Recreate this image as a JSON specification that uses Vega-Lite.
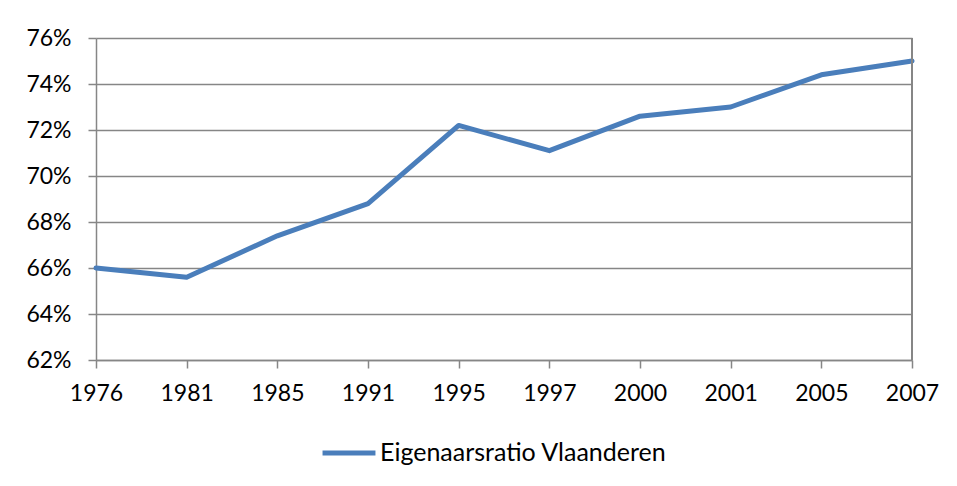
{
  "$schema": "https://vega.github.io/schema/vega-lite/v6.json",
  "width": 816,
  "height": 322,
  "autosize": {"type": "none"},
  "padding": {"left": 96, "top": 38, "right": 45, "bottom": 126},
  "background": "white",
  "config": {
    "font": "Lato",
    "view": {"stroke": null},
    "axis": {
      "labelFont": "Lato",
      "labelFontSize": 23,
      "labelColor": "#000000",
      "domainColor": "#868686",
      "domainWidth": 1.5,
      "tickColor": "#868686",
      "tickWidth": 1.5,
      "tickSize": 8,
      "gridColor": "#868686",
      "gridWidth": 1.5,
      "title": null
    },
    "axisX": {"labelPadding": 14, "labelAngle": 0, "grid": false},
    "axisY": {"labelPadding": 17, "grid": true}
  },
  "data": {
    "values": [
      {"year": "1976", "ratio": 0.660, "series": "Eigenaarsratio Vlaanderen"},
      {"year": "1981", "ratio": 0.656, "series": "Eigenaarsratio Vlaanderen"},
      {"year": "1985", "ratio": 0.674, "series": "Eigenaarsratio Vlaanderen"},
      {"year": "1991", "ratio": 0.688, "series": "Eigenaarsratio Vlaanderen"},
      {"year": "1995", "ratio": 0.722, "series": "Eigenaarsratio Vlaanderen"},
      {"year": "1997", "ratio": 0.711, "series": "Eigenaarsratio Vlaanderen"},
      {"year": "2000", "ratio": 0.726, "series": "Eigenaarsratio Vlaanderen"},
      {"year": "2001", "ratio": 0.730, "series": "Eigenaarsratio Vlaanderen"},
      {"year": "2005", "ratio": 0.744, "series": "Eigenaarsratio Vlaanderen"},
      {"year": "2007", "ratio": 0.750, "series": "Eigenaarsratio Vlaanderen"}
    ]
  },
  "layer": [
    {
      "mark": {"type": "line", "strokeWidth": 5, "strokeCap": "round", "strokeJoin": "round"},
      "encoding": {
        "x": {
          "field": "year",
          "type": "ordinal",
          "scale": {"type": "point", "padding": 0},
          "axis": {"labelAngle": 0, "labelPadding": 14, "grid": false}
        },
        "y": {
          "field": "ratio",
          "type": "quantitative",
          "scale": {"domain": [0.62, 0.76], "nice": false, "zero": false},
          "axis": {"format": ".0%", "values": [0.62, 0.64, 0.66, 0.68, 0.70, 0.72, 0.74, 0.76], "labelPadding": 17, "grid": true}
        },
        "color": {
          "field": "series",
          "type": "nominal",
          "scale": {"range": ["#4a7ebb"]},
          "legend": {
            "title": null,
            "orient": "none",
            "legendX": 224,
            "legendY": 386,
            "symbolType": "stroke",
            "symbolSize": 2800,
            "symbolStrokeWidth": 5,
            "labelFont": "Lato",
            "labelFontSize": 25,
            "labelColor": "#000000",
            "labelOffset": 2,
            "labelLimit": 500
          }
        }
      }
    },
    {
      "mark": {"type": "rule", "color": "#868686", "strokeWidth": 1.5},
      "encoding": {
        "x": {"datum": "2007", "type": "ordinal", "axis": {"labelAngle": 0, "labelPadding": 14, "grid": false}}
      }
    }
  ]
}
